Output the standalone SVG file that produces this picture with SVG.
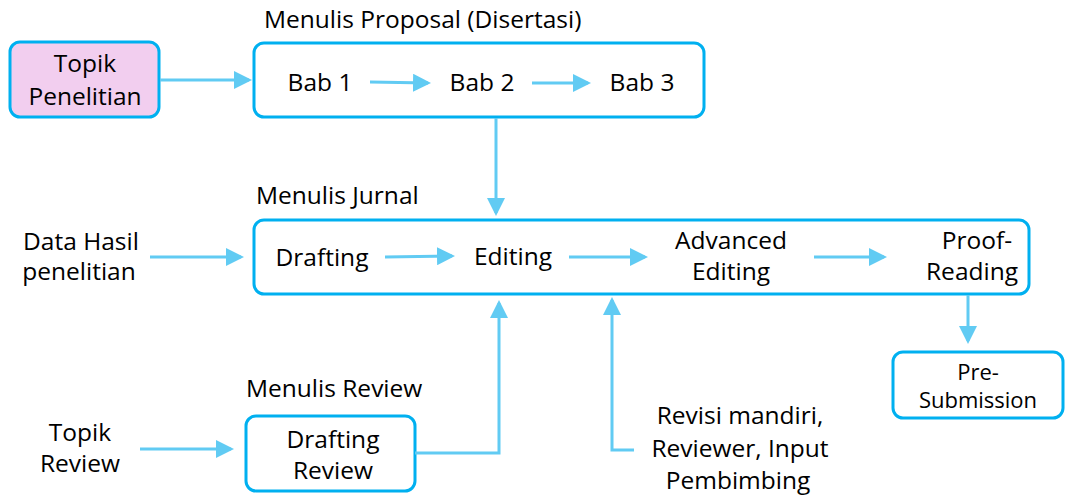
<svg xmlns="http://www.w3.org/2000/svg" width="1066" height="497" viewBox="0 0 1066 497">
<style>
text{font-family:"Open Sans","Liberation Sans",sans-serif;font-size:24.5px;fill:#000}
.c{text-anchor:middle}
.box{fill:#fff;stroke:#00B0F0;stroke-width:3}
.ln{fill:none;stroke:#61CBF3;stroke-width:3}
</style>
<defs>
<marker id="ah" markerWidth="6" markerHeight="6" refX="5" refY="3" orient="auto" markerUnits="strokeWidth" viewBox="0 0 6 6">
<path d="M0,0 L6,3 L0,6 z" fill="#61CBF3"/>
</marker>
</defs>
<g id="topik-penelitian">
<rect x="10" y="42" width="149" height="75" rx="10" fill="#F2CEEF" stroke="#00B0F0" stroke-width="3"/>
<text class="c" x="85" y="72">Topik</text>
<text class="c" x="85" y="105">Penelitian</text>
</g>
<g id="proposal">
<text x="264" y="28">Menulis Proposal (Disertasi)</text>
<rect class="box" x="254" y="43" width="450" height="74" rx="10"/>
<text class="c" x="320" y="91">Bab 1</text>
<text class="c" x="482" y="91">Bab 2</text>
<text class="c" x="642" y="91">Bab 3</text>
</g>
<g id="jurnal">
<text x="256" y="204">Menulis Jurnal</text>
<rect class="box" x="254" y="220" width="775" height="74" rx="10"/>
<text class="c" x="322" y="266">Drafting</text>
<text class="c" x="513" y="265">Editing</text>
<text class="c" x="731" y="249">Advanced</text>
<text class="c" x="731" y="280">Editing</text>
<text class="c" x="977" y="249">Proof-</text>
<text class="c" x="972" y="280">Reading</text>
</g>
<g id="data-hasil">
<text class="c" x="81" y="250">Data Hasil</text>
<text class="c" x="79" y="280">penelitian</text>
</g>
<g id="pre-submission">
<rect class="box" x="893" y="352" width="170" height="66" rx="10"/>
<text class="c" x="978" y="380" style="font-size:22px">Pre-</text>
<text class="c" x="978" y="408" style="font-size:22px">Submission</text>
</g>
<g id="review">
<text x="246" y="397">Menulis Review</text>
<rect class="box" x="246" y="416" width="169" height="75" rx="10"/>
<text class="c" x="333" y="448">Drafting</text>
<text class="c" x="333" y="479">Review</text>
</g>
<g id="topik-review">
<text class="c" x="80" y="441">Topik</text>
<text class="c" x="80" y="472">Review</text>
</g>
<g id="revisi">
<text class="c" x="740" y="424">Revisi mandiri,</text>
<text class="c" x="740" y="457">Reviewer, Input</text>
<text class="c" x="738" y="489">Pembimbing</text>
</g>
<g id="connectors">
<path class="ln" d="M160,80 H249" marker-end="url(#ah)"/>
<path class="ln" d="M370,82 L428,83" marker-end="url(#ah)"/>
<path class="ln" d="M532,83 H588" marker-end="url(#ah)"/>
<path class="ln" d="M496,118 V213" marker-end="url(#ah)"/>
<path class="ln" d="M150,257 H241" marker-end="url(#ah)"/>
<path class="ln" d="M385,257 L452,256" marker-end="url(#ah)"/>
<path class="ln" d="M569,257 H645" marker-end="url(#ah)"/>
<path class="ln" d="M814,257 H884" marker-end="url(#ah)"/>
<path class="ln" d="M968,295 V341" marker-end="url(#ah)"/>
<path class="ln" d="M140,449 H231" marker-end="url(#ah)"/>
<path class="ln" d="M415,453 H499 V303" marker-end="url(#ah)"/>
<path class="ln" d="M634,450 H612 V300" marker-end="url(#ah)"/>
</g>
</svg>
